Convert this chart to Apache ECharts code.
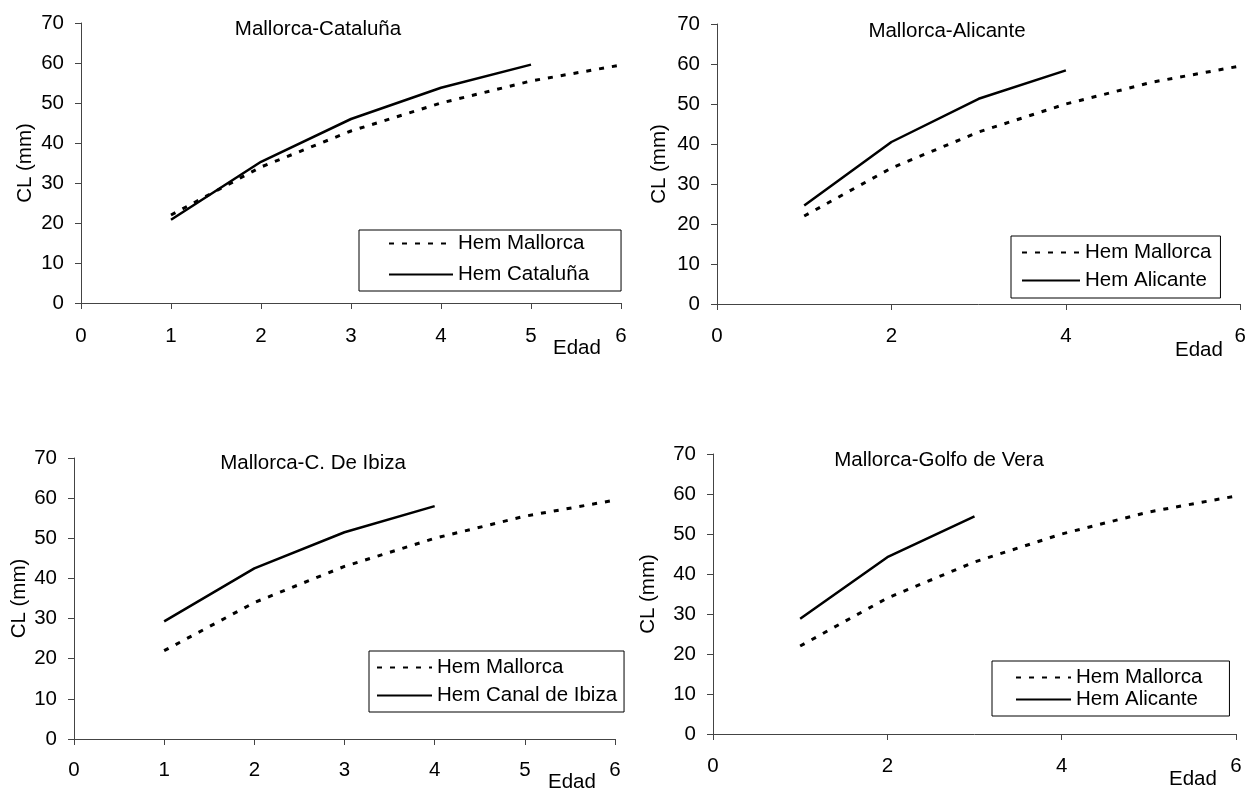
<!DOCTYPE html>
<html>
<head>
<meta charset="utf-8">
<script src="https://cdn.jsdelivr.net/npm/echarts@6/dist/echarts.min.js"></script>
<style>
html,body{margin:0;padding:0;background:#fff;}
#c{width:1249px;height:790px;}
</style>
</head>
<body>
<div id="c"></div>
<script>
// ---- data ----
var ages = [1, 2, 3, 4, 5, 6];
var hemMallorca = [22, 34, 43, 50, 55.5, 59.5];
var hemCataluna = [20.8, 35.3, 46, 53.8, 59.6];
var hemAlicante = [24.6, 40.5, 51.3, 58.4];
var hemCanalIbiza = [29.3, 42.5, 51.5, 58];
var hemGolfoVera = [28.8, 44.2, 54.4];
var panelTitles = ['Mallorca-Cataluña', 'Mallorca-Alicante', 'Mallorca-C. De Ibiza', 'Mallorca-Golfo de Vera'];
var otherNames = ['Hem Cataluña', 'Hem Alicante', 'Hem Canal de Ibiza', 'Hem Alicante'];
var otherValues = [hemCataluna, hemAlicante, hemCanalIbiza, hemGolfoVera];
var xIntervals = [1, 2, 1, 2];
var yTicks = [0, 10, 20, 30, 40, 50, 60, 70];
var xLabel = 'Edad';
var yLabel = 'CL (mm)';

function pairs(vals) {
  return vals.map(function (v, i) { return [ages[i], v]; });
}

var FONT = 'Liberation Sans, Arial, sans-serif';
var FS = 20.5;

var grids = [
  {left: 81, top: 23, width: 540, height: 280},
  {left: 717, top: 24, width: 525, height: 280},
  {left: 74, top: 458, width: 541, height: 281},
  {left: 713, top: 454, width: 523, height: 280}
];
var titlePos = [[318, 19], [947, 21], [313, 453], [939, 450]];
var edadPos = [[553, 338], [1175, 340], [548, 772], [1169, 769]];
var yNameGap = [45, 47, 44, 54];
var xLabelMargin = [23, 22, 21, 22];
var legendCfg = [
  {left: 359, top: 230, padding: [3, 32, 6, 29], itemWidth: 64, itemGap: 10},
  {left: 1011, top: 236, padding: [6, 9, 7, 10], itemWidth: 58, itemGap: 7},
  {left: 369, top: 651, padding: [6, 7, 6, 7], itemWidth: 55, itemGap: 7},
  {left: 992, top: 661, padding: [6, 27, 6, 23], itemWidth: 55, itemGap: 1}
];

var option = {
  animation: false,
  backgroundColor: '#fff',
  textStyle: {fontFamily: FONT},
  title: [],
  legend: [],
  grid: [],
  xAxis: [],
  yAxis: [],
  series: []
};

for (var p = 0; p < 4; p++) {
  option.grid.push(grids[p]);
  option.title.push({
    text: panelTitles[p], left: titlePos[p][0], top: titlePos[p][1], textAlign: 'center', padding: 0,
    textStyle: {fontFamily: FONT, fontSize: FS, fontWeight: 'normal', color: '#000'}
  });
  option.title.push({
    text: xLabel, left: edadPos[p][0], top: edadPos[p][1], padding: 0,
    textStyle: {fontFamily: FONT, fontSize: FS, fontWeight: 'normal', color: '#000'}
  });
  option.xAxis.push({
    type: 'value', gridIndex: p, min: 0, max: 6, interval: xIntervals[p],
    axisLine: {lineStyle: {color: '#444', width: 1}},
    axisTick: {show: true, length: 6, lineStyle: {color: '#444'}},
    axisLabel: {color: '#000', fontSize: FS, fontFamily: FONT, margin: xLabelMargin[p]},
    splitLine: {show: false}
  });
  option.yAxis.push({
    type: 'value', gridIndex: p, min: yTicks[0], max: yTicks[yTicks.length - 1], interval: yTicks[1] - yTicks[0],
    name: yLabel, nameLocation: 'middle', nameGap: yNameGap[p], nameRotate: 90,
    nameTextStyle: {color: '#000', fontSize: FS, fontFamily: FONT},
    axisLine: {show: true, lineStyle: {color: '#444', width: 1}},
    axisTick: {show: true, length: 6, lineStyle: {color: '#444'}},
    axisLabel: {color: '#000', fontSize: FS, fontFamily: FONT, margin: 17},
    splitLine: {show: false}
  });
  option.series.push({
    name: 'Hem Mallorca', type: 'line', xAxisIndex: p, yAxisIndex: p,
    data: pairs(hemMallorca), symbol: 'none', smooth: false,
    lineStyle: {color: '#000', width: 3, type: [5, 8]},
    itemStyle: {color: '#000'}
  });
  option.series.push({
    name: otherNames[p], type: 'line', xAxisIndex: p, yAxisIndex: p,
    data: pairs(otherValues[p]), symbol: 'none', smooth: false,
    lineStyle: {color: '#000', width: 2.5, type: 'solid'},
    itemStyle: {color: '#000'}
  });
  var lc = legendCfg[p];
  option.legend.push({
    data: ['Hem Mallorca', otherNames[p]],
    orient: 'vertical', left: lc.left, top: lc.top, padding: lc.padding,
    itemWidth: lc.itemWidth, itemHeight: 12, itemGap: lc.itemGap,
    borderColor: '#000', borderWidth: 1, borderRadius: 0,
    selectedMode: false,
    itemStyle: {opacity: 0},
    textStyle: {color: '#000', fontSize: FS, fontFamily: FONT}
  });
}

var chart = echarts.init(document.getElementById('c'), null, {renderer: 'canvas'});
chart.setOption(option);
</script>
</body>
</html>
